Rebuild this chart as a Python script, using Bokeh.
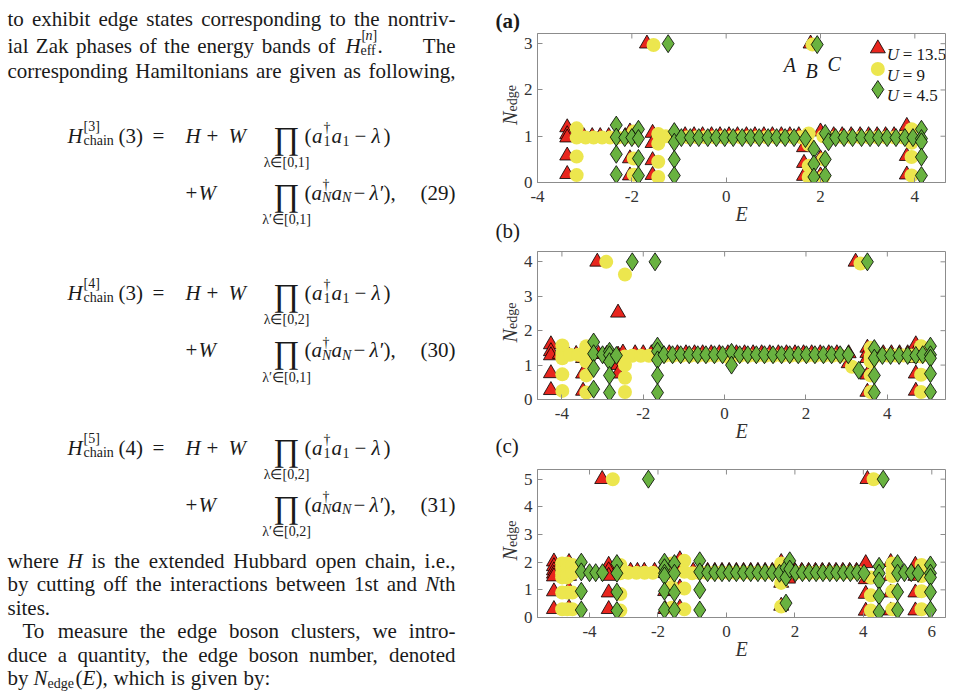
import math
from bokeh.plotting import figure
from bokeh.models import Range1d, FixedTicker, ColumnDataSource
from bokeh.layouts import row, column
from bokeh.embed import file_html
from bokeh.resources import INLINE
from bokeh.core.properties import value, field

SERIF = "Liberation Serif"
RED, YEL, GRN = "#e8261e", "#ece64e", "#69b240"
AX = "#8c8c8c"
TXT = "#1a1a1a"

# ---------------- data (E, N_edge) ----------------
a_x_ticks = [-4, -2, 0, 2, 4]
a_y_ticks = [0, 1, 2, 3]
a_tri = [(-3.37,1.19),(-3.37,1.04),(-3.37,0.97),(-3.37,0.58),(-3.37,0.18),
         (-3.02,1.0),(-2.84,1.0),(-2.67,1.0),(-2.49,1.0),(-2.32,1.0),(-2.14,1.0),
         (-2.04,1.1),(-2.04,0.52),(-2.04,0.15),(-1.68,3.0),
         (-1.56,1.07),(-1.56,0.85),(-1.56,0.48),(-1.56,0.16),
         (-1.05,1.02),(-0.87,1.02),(-0.68,1.02),(-0.50,1.02),(-0.31,1.02),(-0.13,1.02),
         (0.06,1.02),(0.24,1.02),(0.43,1.02),(0.61,1.02),(0.80,1.02),(0.98,1.02),
         (1.17,1.02),(1.35,1.02),(1.54,1.02),
         (1.65,0.76),(1.65,0.42),(1.65,0.14),(1.79,3.0),
         (2.0,1.1),(2.0,0.52),(2.0,0.15),
         (2.28,1.02),(2.46,1.02),(2.65,1.02),(2.84,1.02),(3.02,1.02),(3.20,1.02),
         (3.38,1.02),(3.56,1.02),(3.74,1.02),
         (3.83,1.22),(3.83,1.0),(3.83,0.57),(3.83,0.17)]
a_cir = [(-3.17,1.17),(-3.17,0.97),(-3.17,0.56),(-3.17,0.16),
         (-2.98,0.97),(-2.81,0.97),(-2.63,0.97),(-2.46,0.97),(-2.30,0.97),(-2.14,0.97),
         (-1.96,1.1),(-1.96,0.97),(-1.96,0.52),(-1.96,0.17),(-1.54,2.97),
         (-1.44,1.05),(-1.44,0.84),(-1.44,0.45),(-1.44,0.12),(-1.28,1.0),
         (-1.0,0.98),(-0.82,0.98),(-0.63,0.98),(-0.45,0.98),(-0.26,0.98),(-0.08,0.98),
         (0.11,0.98),(0.29,0.98),(0.48,0.98),(0.66,0.98),(0.85,0.98),(1.03,0.98),
         (1.22,0.98),(1.40,0.98),(1.58,0.98),
         (1.75,1.06),(1.75,0.82),(1.75,0.36),(1.75,0.12),(1.83,2.98),
         (2.06,1.0),(2.06,0.5),(2.06,0.12),
         (2.30,0.97),(2.48,0.97),(2.66,0.97),(2.85,0.97),(3.03,0.97),(3.21,0.97),
         (3.39,0.97),(3.57,0.97),(3.75,0.97),
         (3.93,1.15),(3.93,0.97),(3.93,0.86),(3.93,0.55),(3.93,0.15)]
a_dia = [(-2.33,1.24),(-2.33,0.98),(-2.33,0.61),(-2.33,0.17),
         (-2.15,0.97),(-2.0,0.97),
         (-1.86,1.15),(-1.86,0.95),(-1.86,0.52),(-1.86,0.15),(-1.23,3.0),
         (-1.1,1.1),(-1.1,0.87),(-1.1,0.5),(-1.1,0.15),
         (-0.95,0.97),(-0.76,0.97),(-0.58,0.97),(-0.39,0.97),(-0.21,0.97),(-0.03,0.97),
         (0.15,0.97),(0.34,0.97),(0.52,0.97),(0.70,0.97),(0.89,0.97),(1.07,0.97),
         (1.25,0.97),(1.44,0.97),(1.68,0.95),
         (1.86,0.72),(1.86,0.4),(1.86,0.12),(1.93,2.98),
         (2.1,1.06),(2.1,0.5),(2.1,0.15),(2.17,0.88),
         (2.32,0.97),(2.50,0.97),(2.68,0.97),(2.87,0.97),(3.05,0.97),(3.23,0.97),
         (3.41,0.97),(3.60,0.97),(3.79,0.97),(3.96,0.97),
         (4.14,1.15),(4.14,0.95),(4.14,0.88),(4.14,0.55),(4.14,0.15)]

b_x_ticks = [-4, -2, 0, 2, 4]
b_y_ticks = [0, 1, 2, 3, 4]
b_tri = [(-4.27,1.6),(-4.27,1.4),(-4.27,1.28),(-4.27,0.76),(-4.27,0.27),
         (-4.05,1.32),(-3.85,1.32),(-3.65,1.32),
         (-3.48,1.4),(-3.48,1.2),(-3.48,0.75),(-3.48,0.25),(-3.13,4.0),
         (-3.3,1.32),(-3.1,1.32),(-2.9,1.32),
         (-2.62,2.52),(-2.62,1.3),(-2.62,1.0),(-2.62,0.75),(-2.5,1.36),
         (-2.2,1.34),(-2.0,1.34),(-1.8,1.34),
         (-1.57,1.34),(-1.36,1.34),(-1.16,1.34),(-0.95,1.34),(-0.74,1.34),(-0.54,1.34),
         (-0.33,1.34),(-0.13,1.34),(0.08,1.34),(0.29,1.34),(0.49,1.34),(0.70,1.34),
         (0.91,1.34),(1.11,1.34),(1.32,1.34),(1.52,1.34),(1.73,1.34),(1.94,1.34),
         (2.14,1.34),(2.35,1.34),(2.56,1.34),(2.76,1.34),
         (3.05,1.05),(3.05,1.34),(3.22,4.0),
         (3.51,1.5),(3.51,1.35),(3.51,1.2),(3.51,0.72),(3.51,0.22),
         (3.7,1.34),(3.9,1.34),(4.1,1.34),(4.3,1.34),(4.5,1.34),
         (4.7,1.6),(4.7,1.4),(4.7,1.2),(4.7,0.75),(4.7,0.25)]
b_cir = [(-3.99,1.57),(-3.99,1.35),(-3.99,1.2),(-3.99,0.73),(-3.99,0.25),
         (-3.8,1.3),(-3.6,1.3),
         (-3.4,1.55),(-3.4,1.35),(-3.4,1.1),(-3.4,0.7),(-3.4,0.2),
         (-2.91,4.0),(-2.45,3.63),
         (-2.45,1.25),(-2.45,1.0),(-2.45,0.63),(-2.45,0.22),
         (-2.27,1.27),(-2.06,1.27),(-1.86,1.27),(-1.68,1.27),
         (-1.47,1.27),(-1.27,1.27),(-1.06,1.27),(-0.85,1.27),(-0.65,1.27),(-0.44,1.27),
         (-0.24,1.27),(-0.03,1.27),(0.13,1.2),(0.38,1.27),(0.59,1.27),(0.79,1.27),
         (1.0,1.27),(1.2,1.27),(1.41,1.27),(1.62,1.27),(1.82,1.27),(2.03,1.27),
         (2.23,1.27),(2.44,1.27),(2.65,1.27),(2.85,1.27),
         (3.13,0.95),(3.34,3.95),
         (3.59,1.5),(3.59,1.25),(3.59,1.1),(3.59,0.7),(3.59,0.22),
         (3.8,1.28),(4.0,1.28),(4.2,1.28),(4.4,1.28),(4.6,1.28),
         (4.83,1.55),(4.83,1.25),(4.83,0.72),(4.83,0.22)]
b_dia = [(-3.22,1.67),(-3.22,1.33),(-3.22,0.9),(-3.22,0.3),(-3.0,1.3),
         (-2.83,1.4),(-2.83,1.3),(-2.83,1.1),(-2.83,0.7),(-2.83,0.2),(-2.66,1.28),
         (-2.27,4.0),(-1.71,4.0),
         (-1.65,1.55),(-1.65,1.4),(-1.65,1.15),(-1.65,0.7),(-1.65,0.2),
         (-1.49,1.3),(-1.28,1.3),(-1.08,1.3),(-0.87,1.3),(-0.66,1.3),(-0.46,1.3),
         (-0.25,1.3),(-0.05,1.3),(0.17,1.37),(0.17,1.0),(0.37,1.3),(0.57,1.3),
         (0.78,1.3),(0.98,1.3),(1.19,1.3),(1.40,1.3),(1.60,1.3),(1.81,1.3),
         (2.01,1.3),(2.22,1.3),(2.43,1.3),(2.63,1.3),(2.84,1.3),(3.04,1.3),
         (3.3,0.85),(3.51,4.0),
         (3.68,1.48),(3.68,1.2),(3.68,0.7),(3.68,0.2),
         (3.88,1.28),(4.08,1.28),(4.29,1.28),(4.5,1.28),(4.7,1.28),(4.87,1.3),
         (5.06,1.55),(5.06,1.3),(5.06,1.2),(5.06,0.75),(5.06,0.22)]

c_x_ticks = [-4, -2, 0, 2, 4, 6]
c_y_ticks = [0, 1, 2, 3, 4, 5]
c_tri = [(-5.04,2.02),(-5.04,1.85),(-5.04,1.7),(-5.04,1.58),(-5.04,1.48),(-5.04,0.94),(-5.04,0.3),
         (-4.6,2.0),(-4.6,1.5),(-4.6,1.0),(-4.6,0.35),(-3.63,5.0),
         (-3.44,1.9),(-3.44,1.7),(-3.44,1.5),(-3.44,0.9),(-3.44,0.3),
         (-3.0,1.68),(-2.8,1.68),(-2.6,1.68),(-2.4,1.68),(-2.1,1.68),
         (-1.79,1.9),(-1.79,1.6),(-1.79,0.95),(-1.79,0.3),
         (-1.36,2.1),(-1.36,1.8),(-1.36,1.08),(-1.36,0.35),
         (-0.97,1.68),(-0.76,1.68),(-0.55,1.68),(-0.34,1.68),(-0.13,1.68),(0.08,1.68),
         (0.29,1.68),(0.5,1.68),(0.71,1.68),(0.92,1.68),(1.13,1.68),(1.34,1.68),
         (1.6,2.0),(1.6,1.25),(1.6,0.42),(1.8,1.4),
         (2.0,1.68),(2.2,1.68),(2.4,1.68),(2.6,1.68),(2.8,1.68),(3.0,1.68),
         (3.2,1.68),(3.4,1.68),(3.6,1.68),(3.8,1.68),
         (4.07,1.96),(4.07,1.38),(4.07,0.85),(4.07,0.24),(4.12,5.0),
         (4.8,2.0),(4.8,1.5),(4.8,0.9),(4.8,0.25),
         (5.52,1.9),(5.52,1.5),(5.52,0.9),(5.52,0.25)]
c_cir = [(-4.8,1.95),(-4.8,1.8),(-4.8,1.6),(-4.8,1.45),(-4.8,0.9),(-4.8,0.3),
         (-4.65,1.95),(-4.65,1.75),(-4.65,1.55),(-4.65,1.45),(-4.65,0.9),(-4.65,0.3),
         (-4.5,1.9),(-4.5,1.6),(-4.5,0.9),(-4.5,0.3),(-3.32,5.0),
         (-3.1,1.9),(-3.1,1.6),(-3.1,0.85),(-3.1,0.25),
         (-2.87,1.62),(-2.63,1.62),(-2.39,1.62),(-2.15,1.62),
         (-1.6,1.95),(-1.6,1.6),(-1.6,1.1),(-1.6,0.35),
         (-1.23,2.05),(-1.23,1.65),(-1.23,1.05),(-1.23,0.3),(-1.0,1.6),
         (-0.8,1.62),(-0.59,1.62),(-0.38,1.62),(-0.17,1.62),(0.04,1.62),(0.25,1.62),
         (0.46,1.62),(0.67,1.62),(0.88,1.62),(1.09,1.62),(1.3,1.62),
         (1.6,1.95),(1.6,1.25),(1.6,0.4),
         (2.05,1.62),(2.25,1.62),(2.45,1.62),(2.65,1.62),(2.85,1.62),(3.05,1.62),
         (3.25,1.62),(3.45,1.62),(3.65,1.62),(3.85,1.62),
         (4.22,1.45),(4.22,0.8),(4.22,0.25),(4.3,5.0),
         (4.85,1.95),(4.85,1.7),(4.85,1.5),(4.85,0.95),(4.85,0.3),
         (5.7,1.9),(5.7,1.5),(5.7,0.95),(5.7,0.3)]
c_dia = [(-4.24,2.0),(-4.24,1.65),(-4.24,0.95),(-4.24,0.27),
         (-4.0,1.62),(-3.82,1.62),(-3.62,1.62),
         (-3.2,1.95),(-3.2,1.6),(-3.2,0.92),(-3.2,0.25),(-2.28,5.0),
         (-1.81,2.0),(-1.81,1.8),(-1.81,1.6),(-1.81,1.5),(-1.81,0.95),(-1.81,0.28),
         (-1.52,1.95),(-1.52,1.6),(-1.52,0.9),(-1.52,0.27),
         (-0.78,2.05),(-0.78,1.65),(-0.78,1.0),(-0.78,0.27),
         (-0.55,1.62),(-0.34,1.62),(-0.13,1.62),(0.08,1.62),(0.29,1.62),(0.5,1.62),
         (0.71,1.62),(0.92,1.62),(1.13,1.62),(1.34,1.62),(1.55,1.6),
         (1.74,1.8),(1.74,1.45),(1.74,0.52),(1.85,2.05),(1.85,1.75),
         (2.02,1.62),(2.22,1.62),(2.42,1.62),(2.62,1.62),(2.82,1.62),(3.02,1.62),
         (3.22,1.62),(3.42,1.62),(3.62,1.62),(3.82,1.62),(4.02,1.6),
         (4.46,1.85),(4.46,1.6),(4.46,1.32),(4.46,0.78),(4.46,0.2),(4.58,5.0),
         (5.0,1.95),(5.0,1.6),(5.0,0.92),(5.0,0.27),
         (5.2,1.62),(5.4,1.62),(5.6,1.6),
         (5.96,1.9),(5.96,1.6),(5.96,1.45),(5.96,0.92),(5.96,0.27)]

legend_labels = ["= 13.5", "= 9", "= 4.5"]
point_labels = ["A", "B", "C"]
point_label_pos = [(1.22, 2.55), (1.68, 2.40), (2.15, 2.57)]
panel_tags = ["(a)", "(b)", "(c)"]

# ---------------- panels ----------------
TEXT_W = 520
COL_W = 436
BL, BR = 15, 11
FW = COL_W - BL - BR          # 410


def cols(pts):
    return [p[0] for p in pts], [p[1] for p in pts]


def make_panel(xr, yr, xt, yt, top, fh, bottom, tri, cir, dia):
    p = figure(width=COL_W, height=top + fh + bottom,
               x_range=Range1d(*xr), y_range=Range1d(*yr),
               output_backend="svg", toolbar_location=None,
               min_border_left=BL, min_border_right=BR,
               min_border_top=top, min_border_bottom=bottom)
    p.xgrid.visible = False
    p.ygrid.visible = False
    p.outline_line_color = AX
    p.outline_line_width = 1

    for ax, ticks in ((p.xaxis[0], xt), (p.yaxis[0], yt)):
        ax.ticker = FixedTicker(ticks=ticks, minor_ticks=[])
        ax.major_label_overrides = {t: str(t) for t in ticks}
        ax.major_tick_in = 5
        ax.major_tick_out = 0
        ax.minor_tick_in = 0
        ax.minor_tick_out = 0
        ax.axis_line_color = AX
        ax.major_tick_line_color = AX
        ax.major_label_text_font = SERIF
        ax.major_label_text_font_size = "17px"
        ax.major_label_text_color = "#333333"
    p.xaxis.major_label_standoff = 8
    p.yaxis.major_label_standoff = 5
    p.xaxis.axis_label = "E"
    p.xaxis.axis_label_text_font = SERIF
    p.xaxis.axis_label_text_font_style = "italic"
    p.xaxis.axis_label_text_font_size = "20px"
    p.xaxis.axis_label_text_color = "#333333"
    p.xaxis.axis_label_standoff = -2

    # inward ticks on the top and right edges of the box
    ty = (yr[1] - yr[0]) / fh * 5
    tx = (xr[1] - xr[0]) / FW * 5
    p.segment(x0=xt, y0=[yr[1]] * len(xt), x1=xt, y1=[yr[1] - ty] * len(xt),
              line_color=AX, line_width=1)
    p.segment(x0=[xr[1]] * len(yt), y0=yt, x1=[xr[1] - tx] * len(yt), y1=yt,
              line_color=AX, line_width=1)

    x, y = cols(tri)
    p.scatter(x, y, marker="triangle", size=15, fill_color=RED, line_color="black", line_width=0.8)
    x, y = cols(cir)
    p.scatter(x, y, marker="circle", size=14, fill_color=YEL, line_color=None)
    x, y = cols(dia)
    p.scatter(x, y, marker="diamond", size=18, fill_color=GRN, line_color="black", line_width=0.8)

    sx = (xr[1] - xr[0]) / FW
    sy = (yr[1] - yr[0]) / fh
    return p, (lambda px: xr[0] + px * sx), (lambda py: yr[0] + py * sy)


A_TOP, A_FH, A_BOT = 33, 149, 54
B_TOP, B_FH, B_BOT = 15, 148, 54
C_TOP, C_FH, C_BOT = 16, 148, 74

pa, adx, ady = make_panel((-4, 4.65), (0, 3.22), a_x_ticks, a_y_ticks, A_TOP, A_FH, A_BOT,
                          a_tri, a_cir, a_dia)
pb, _, _ = make_panel((-4.6, 5.43), (0, 4.3), b_x_ticks, b_y_ticks, B_TOP, B_FH, B_BOT,
                      b_tri, b_cir, b_dia)
pc, _, _ = make_panel((-5.52, 6.4), (0, 5.35), c_x_ticks, c_y_ticks, C_TOP, C_FH, C_BOT,
                      c_tri, c_cir, c_dia)

a_ft = A_TOP
b_ft = A_TOP + A_FH + A_BOT + B_TOP
c_ft = b_ft + B_FH + B_BOT + C_TOP
frames = [(a_ft, a_ft + A_FH), (b_ft, b_ft + B_FH), (c_ft, c_ft + C_FH)]

# A, B, C annotations in panel (a)
pa.text(x=[q[0] for q in point_label_pos], y=[q[1] for q in point_label_pos], text=point_labels,
        text_font=value(SERIF), text_font_style="italic", text_font_size="20px",
        text_baseline="alphabetic", text_color=TXT)

# legend of panel (a)
rows_px = [A_FH - 15, A_FH - 35.5, A_FH - 56]
mx = adx(342)
pa.scatter([mx], [ady(rows_px[0])], marker="triangle", size=15, fill_color=RED, line_color="black", line_width=0.8)
pa.scatter([mx], [ady(rows_px[1])], marker="circle", size=14, fill_color=YEL, line_color=None)
pa.scatter([mx], [ady(rows_px[2])], marker="diamond", size=18, fill_color=GRN, line_color="black", line_width=0.8)
pa.text(x=[adx(351)] * 3, y=[ady(r - 6) for r in rows_px], text=["U"] * 3,
        text_font=value(SERIF), text_font_style="italic", text_font_size="17px",
        text_baseline="alphabetic", text_color=TXT)
pa.text(x=[adx(367)] * 3, y=[ady(r - 6) for r in rows_px], text=legend_labels,
        text_font=value(SERIF), text_font_size="17px",
        text_baseline="alphabetic", text_color=TXT)

# ---------------- left text column (page coordinates) ----------------
TH = 691
tp = figure(width=TEXT_W, height=TH, x_range=Range1d(0, TEXT_W), y_range=Range1d(TH, 0),
            output_backend="svg", toolbar_location=None,
            x_axis_location=None, y_axis_location=None,
            min_border_left=0, min_border_right=0, min_border_top=0, min_border_bottom=0)
tp.xgrid.visible = False
tp.ygrid.visible = False
tp.outline_line_color = None

T = dict(x=[], y=[], t=[], fs=[], st=[], ft=[], al=[], an=[], col=[])


def put(t, x, y, size=21, style="normal", align="left", font=SERIF, angle=0.0, color=TXT):
    T["x"].append(x)
    T["y"].append(y)
    T["t"].append(t)
    T["fs"].append(f"{size}px")
    T["st"].append(style)
    T["ft"].append(font)
    T["al"].append(align)
    T["an"].append(angle)
    T["col"].append(color)


REG = dict(zip("abcdefghijklmnopqrstuvwxyz",
               [444, 500, 444, 500, 444, 333, 500, 500, 278, 278, 500, 278, 778, 500, 500, 500, 500,
                333, 389, 278, 500, 500, 722, 500, 500, 444]))
REG.update(dict(zip("ABCDEFGHIJKLMNOPQRSTUVWXYZ",
                    [722, 667, 667, 722, 611, 556, 722, 722, 333, 389, 722, 611, 889, 722, 722, 556,
                     722, 667, 556, 611, 722, 722, 944, 722, 722, 611])))
REG.update({" ": 250, ",": 250, ".": 250, "-": 333, ":": 278, "(": 333, ")": 333})
for d in "0123456789":
    REG[d] = 500
ITAL = {"H": 722, "N": 667, "E": 611}


def seg_w(s, size, it):
    return sum((ITAL.get(c, REG.get(c, 500)) if it else REG.get(c, 500)) for c in s) * size / 1000


def parse(word):
    parts = word.split("*")
    return [(s, i % 2 == 1) for i, s in enumerate(parts) if s]


def word_w(word, size):
    return sum(seg_w(s, size, it) for s, it in parse(word))


def put_word(word, x, y, size):
    for s, it in parse(word):
        put(s, x, y, size, "italic" if it else "normal")
        x += seg_w(s, size, it)


def justify(line, y, x0, x1, size=21):
    words = line.split(" ")
    tot = sum(word_w(w, size) for w in words)
    gap = (x1 - x0 - tot) / (len(words) - 1)
    x = x0
    for w in words:
        put_word(w, x, y, size)
        x += word_w(w, size) + gap


def natural(line, y, x0, size=21, gap=6):
    x = x0
    for w in line.split(" "):
        put_word(w, x, y, size)
        x += word_w(w, size) + gap


L, R = 7, 455
body_1 = "to exhibit edge states corresponding to the nontriv-"
body_2 = "ial Zak phases of the energy bands of"
body_3 = "corresponding Hamiltonians are given as following,"
body_4 = "where *H* is the extended Hubbard open chain, i.e.,"
body_5 = "by cutting off the interactions between 1st and *N*th"
body_6 = "sites."
body_7 = "To measure the edge boson clusters, we intro-"
body_8 = "duce a quantity, the edge boson number, denoted"

y1, y2, y3 = 18, 45, 70
justify(body_1, y1, L, R)
justify(body_2, y2, L, 335)
put("H", 345, y2, 21, "italic")
put("[", 361, y2 - 10, 14)
put("n", 365, y2 - 10, 14, "italic")
put("]", 372, y2 - 10, 14)
put("eff", 360, y2 + 5, 14)
put(".", 377, y2, 21)
put("The", R, y2, 21, align="right")
justify(body_3, y3, L, R)


def equation(b1, b2, sup, arg, s1, s2, num):
    put("H", 67, b1, 21, "italic")
    put(sup, 83, b1 - 9, 14)
    put("chain", 83, b1 + 5, 14)
    put(arg, 118, b1, 21)
    put("=", 158, b1, 21, align="center")
    put("H", 185, b1, 21, "italic")
    put("+", 206, b1, 21)
    put("W", 228, b1, 21, "italic")
    put("\u220f", 286, b1 + 2, 32, align="center")
    put(s1, 286, b1 + 27, 14, align="center")
    put("(", 304, b1, 21)
    put("a", 311.5, b1, 21, "italic")
    put("\u2020", 323, b1 - 8, 14)
    put("1", 323, b1 + 5, 14)
    put("a", 331, b1, 21, "italic")
    put("1", 342, b1 + 5, 14)
    put("\u2212", 354, b1, 21)
    put("\u03bb", 371, b1, 21, "italic")
    put(")", 383, b1, 21)
    put("+", 185, b2, 21)
    put("W", 198, b2, 21, "italic")
    put("\u220f", 286, b2 + 2, 32, align="center")
    put(s2, 286, b2 + 27, 14, align="center")
    put("(", 304, b2, 21)
    put("a", 311, b2, 21, "italic")
    put("\u2020", 322, b2 - 8, 14)
    put("N", 321.5, b2 + 5, 14, "italic")
    put("a", 331, b2, 21, "italic")
    put("N", 341.5, b2 + 5, 14, "italic")
    put("\u2212", 353, b2, 21)
    put("\u03bb\u2032", 369, b2, 21, "italic")
    put("),", 383, b2, 21)
    put(num, R, b2, 21, align="right")


equation(135, 192, "[3]", "(3)", "\u03bb\u2208[0,1]", "\u03bb\u2032\u2208[0,1]", "(29)")
equation(292, 349.5, "[4]", "(3)", "\u03bb\u2208[0,2]", "\u03bb\u2032\u2208[0,1]", "(30)")
equation(447, 504, "[5]", "(4)", "\u03bb\u2208[0,2]", "\u03bb\u2032\u2208[0,2]", "(31)")

LS = 23.5
yw = 560
justify(body_4, yw, L, R)
justify(body_5, yw + LS, L, R)
natural(body_6, yw + 2 * LS, L)
justify(body_7, yw + 3 * LS, 22, R)
justify(body_8, yw + 4 * LS, L, R)
yl = yw + 5 * LS
put("by", L, yl, 21)
put("N", 33, yl, 21, "italic")
put("edge", 47, yl + 5, 14)
put("(", 75, yl, 21)
put("E", 82, yl, 21, "italic")
put("),", 95, yl, 21)
natural("which is given by:", yl, 113, gap=6)

# panel tags and rotated y-axis titles of the three panels (left of each frame)
tag_base = [20, 230, 445]
for tag, tb in zip(panel_tags, tag_base):
    put(tag, 495, tb, 21, "bold" if tag == "(a)" else "normal")
for (ft, fb) in frames:
    mid = (ft + fb) / 2 - 3
    start = mid + 20
    put("N", 509, start, 20, "italic", angle=math.pi / 2, color="#333333")
    put("edge", 511.5, start - 13.5, 14, angle=math.pi / 2, color="#333333")

src = ColumnDataSource(T)
tp.text(x="x", y="y", text="t", source=src, text_font=field("ft"), text_font_size=field("fs"),
        text_font_style=field("st"), text_align=field("al"), angle=field("an"),
        text_color=field("col"), text_baseline="alphabetic")

layout = row(tp, column(pa, pb, pc))
open("out.html", "w").write(file_html(layout, INLINE, title="N_edge"))
